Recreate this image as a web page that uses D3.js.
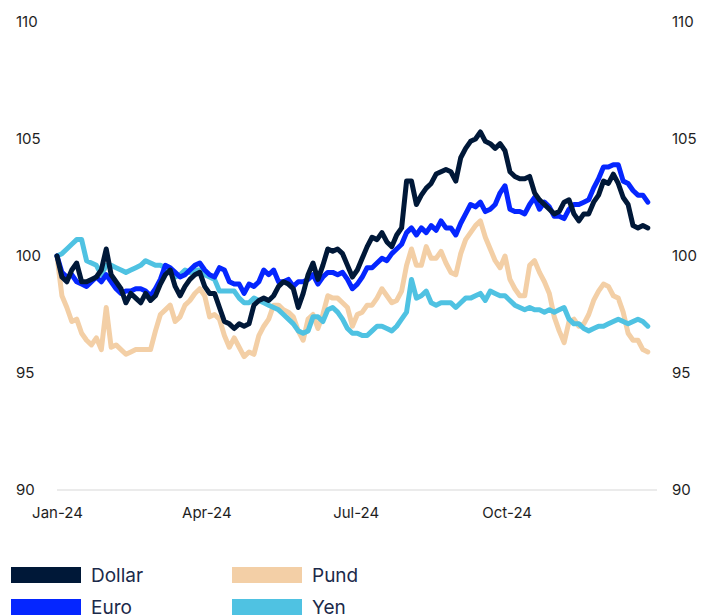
<!DOCTYPE html>
<html>
<head>
<meta charset="utf-8">
<script src="https://cdn.jsdelivr.net/npm/d3@7"></script>
<style>
  html, body { margin: 0; padding: 0; background: #fff; }
  svg { display: block; font-family: Inter, "Noto Sans", sans-serif; }
</style>
</head>
<body>
<svg id="chart" width="702" height="615"></svg>
<script>
// Dates (every third day of 2024, MM-DD)
const dates = [
  "01-01","01-04","01-07","01-10","01-13","01-16","01-19","01-22","01-25","01-28","01-31",
  "02-03","02-06","02-09","02-12","02-15","02-18","02-21","02-24","02-27",
  "03-01","03-04","03-07","03-10","03-13","03-16","03-19","03-22","03-25","03-28","03-31",
  "04-03","04-06","04-09","04-12","04-15","04-18","04-21","04-24","04-27","04-30",
  "05-03","05-06","05-09","05-12","05-15","05-18","05-21","05-24","05-27","05-30",
  "06-02","06-05","06-08","06-11","06-14","06-17","06-20","06-23","06-26","06-29",
  "07-02","07-05","07-08","07-11","07-14","07-17","07-20","07-23","07-26","07-29",
  "08-01","08-04","08-07","08-10","08-13","08-16","08-19","08-22","08-25","08-28","08-31",
  "09-03","09-06","09-09","09-12","09-15","09-18","09-21","09-24","09-27","09-30",
  "10-03","10-06","10-09","10-12","10-15","10-18","10-21","10-24","10-27","10-30",
  "11-02","11-05","11-08","11-11","11-14","11-17","11-20","11-23","11-26","11-29",
  "12-02","12-05","12-08","12-11","12-14","12-17","12-20","12-23","12-26"
];

const dollar = [
  100.0,99.1,98.9,99.4,99.7,98.9,98.9,99.0,99.1,99.4,100.3,
  99.2,98.9,98.6,98.0,98.4,98.2,98.0,98.4,98.1,
  98.3,98.8,99.2,99.4,98.7,98.3,98.7,99.0,99.2,99.3,98.7,
  98.4,98.4,97.8,97.2,97.1,96.9,97.1,97.0,97.1,97.9,
  98.1,98.2,98.1,98.3,98.7,98.9,98.8,98.6,97.8,98.4,
  99.2,99.7,99.0,99.6,100.3,100.2,100.3,100.1,99.6,99.1,
  99.4,99.9,100.4,100.8,100.7,101.0,100.6,100.4,100.9,101.2,
  103.2,103.2,102.2,102.6,102.9,103.1,103.5,103.6,103.7,103.6,103.2,
  104.2,104.6,104.9,105.0,105.3,104.9,104.8,104.6,104.8,104.5,
  103.6,103.4,103.3,103.3,103.4,102.7,102.4,102.2,102.0,101.8,
  101.9,102.3,102.4,101.8,101.5,101.8,101.8,102.3,102.6,103.2,
  103.1,103.5,103.1,102.5,102.2,101.3,101.2,101.3,101.2
];

const euro = [
  100.0,99.3,99.1,99.2,98.9,98.8,98.7,98.9,99.1,98.9,99.2,
  98.9,98.6,98.4,98.5,98.5,98.6,98.6,98.5,98.3,
  98.6,99.0,99.6,99.5,99.3,99.1,99.2,99.4,99.6,99.7,99.4,
  99.2,99.1,99.5,99.4,98.9,98.8,98.8,98.4,98.8,98.7,
  98.9,99.4,99.2,99.4,98.9,98.9,99.0,98.7,98.9,98.9,
  99.0,99.2,98.8,99.1,99.3,99.3,99.2,99.3,99.0,98.6,
  98.8,99.1,99.5,99.5,99.7,99.9,99.8,100.1,100.3,100.5,
  101.0,101.2,100.9,101.2,101.0,101.3,101.1,101.5,101.2,101.2,100.9,
  101.4,101.8,102.2,102.1,102.3,101.9,102.0,102.2,102.7,103.0,
  102.0,101.9,101.9,101.8,102.2,102.5,102.0,102.3,102.1,101.7,
  101.7,101.6,102.0,102.2,102.2,102.3,102.4,102.9,103.3,103.8,
  103.8,103.9,103.9,103.2,103.1,102.8,102.6,102.6,102.3
];

const pund = [
  100.0,98.3,97.8,97.2,97.3,96.7,96.4,96.2,96.5,96.0,97.8,
  96.1,96.2,96.0,95.8,95.9,96.0,96.0,96.0,96.0,
  96.8,97.5,97.7,97.9,97.2,97.4,97.9,98.1,98.4,98.6,98.3,
  97.4,97.5,97.3,96.6,96.1,96.5,96.1,95.7,95.9,95.8,
  96.6,97.0,97.3,97.9,97.9,97.7,97.6,97.4,96.8,96.4,
  97.3,97.5,96.9,97.5,98.3,98.2,98.2,98.0,97.8,97.0,
  97.5,97.6,97.9,97.9,98.2,98.6,98.3,98.0,98.1,98.5,
  99.6,100.3,99.6,99.6,100.4,99.9,99.9,100.2,99.7,99.3,99.2,
  100.1,100.7,101.0,101.3,101.5,100.8,100.3,99.8,99.5,100.0,
  99.0,98.6,98.3,98.3,99.6,99.8,99.3,98.9,98.4,97.4,
  96.8,96.3,97.2,97.3,97.0,97.1,97.5,98.1,98.5,98.8,
  98.7,98.3,98.2,97.6,96.7,96.4,96.4,96.0,95.9
];

const yen = [
  100.0,100.1,100.3,100.5,100.7,100.7,99.8,99.7,99.6,99.2,99.6,
  99.6,99.5,99.4,99.3,99.4,99.5,99.6,99.8,99.7,
  99.6,99.6,99.5,99.3,99.1,99.2,99.4,99.3,99.4,99.4,99.2,
  99.1,99.0,98.5,98.5,98.5,98.5,98.2,98.0,98.0,98.2,
  98.1,98.0,97.9,97.8,97.7,97.5,97.3,97.1,96.8,96.7,
  96.8,97.4,97.4,97.2,97.7,97.8,97.6,97.3,96.9,96.7,
  96.7,96.6,96.6,96.8,97.0,97.0,96.9,96.8,97.0,97.3,
  97.6,99.0,98.2,98.3,98.5,98.0,97.9,98.0,98.0,98.0,97.8,
  98.0,98.2,98.2,98.3,98.4,98.1,98.5,98.4,98.3,98.3,
  98.1,97.9,97.8,97.7,97.8,97.7,97.7,97.6,97.7,97.6,
  97.7,97.8,97.3,97.1,97.1,96.9,96.8,96.9,97.0,97.0,
  97.1,97.2,97.3,97.2,97.1,97.2,97.3,97.2,97.0
];

const seriesNames = ["Dollar", "Euro", "Pund", "Yen"];
const seriesColors = ["#001838", "#0526ff", "#f3cfa6", "#4fc2e2"];
const yTicks = [90, 95, 100, 105, 110];
const xTickDates = ["2024-01-01", "2024-04-01", "2024-07-01", "2024-10-01"];

const parse = d3.timeParse("%Y-%m-%d");
const dateObjs = dates.map(d => parse("2024-" + d));
const allSeries = [dollar, euro, pund, yen];

const svg = d3.select("#chart");
const x = d3.scaleTime()
  .domain([parse("2024-01-01"), parse("2024-12-31")])
  .range([57, 656]);
const y = d3.scaleLinear().domain([90, 110]).range([490, 22]);

// baseline gridline
svg.append("line")
  .attr("x1", 57).attr("x2", 657)
  .attr("y1", y(90)).attr("y2", y(90))
  .attr("stroke", "#e4e4e4").attr("stroke-width", 1.5);

// left axis
const gl = svg.append("g").attr("transform", "translate(16,0)")
  .call(d3.axisLeft(y).tickValues(yTicks).tickSize(0).tickPadding(0));
gl.select(".domain").remove();
gl.selectAll("text").attr("x", 0).attr("text-anchor", "start")
  .attr("font-size", 15).attr("fill", "#1e1e1e").attr("font-family", "Inter, sans-serif");

// right axis
const gr = svg.append("g").attr("transform", "translate(672,0)")
  .call(d3.axisRight(y).tickValues(yTicks).tickSize(0).tickPadding(0));
gr.select(".domain").remove();
gr.selectAll("text").attr("x", 0).attr("text-anchor", "start")
  .attr("font-size", 15).attr("fill", "#1e1e1e").attr("font-family", "Inter, sans-serif");

// bottom axis
const gb = svg.append("g").attr("transform", "translate(0,504)")
  .call(d3.axisBottom(x).tickValues(xTickDates.map(parse)).tickFormat(d3.timeFormat("%b-%y")).tickSize(0).tickPadding(3));
gb.select(".domain").remove();
gb.selectAll("text").attr("font-size", 15).attr("fill", "#1e1e1e").attr("font-family", "Inter, sans-serif");

const line = d3.line()
  .x((d, i) => x(dateObjs[i]))
  .y(d => y(d));

const drawOrder = [2, 3, 1, 0];
drawOrder.forEach(k => {
  svg.append("path")
    .datum(allSeries[k])
    .attr("fill", "none")
    .attr("stroke", seriesColors[k])
    .attr("stroke-width", 5)
    .attr("stroke-linejoin", "round")
    .attr("stroke-linecap", "round")
    .attr("d", line);
});

// legend
const legendPos = [[11, 567], [11, 599], [232, 567], [232, 599]];
seriesNames.forEach((name, k) => {
  const [lx, ly] = legendPos[k];
  svg.append("rect").attr("x", lx).attr("y", ly).attr("width", 70).attr("height", 16)
    .attr("fill", seriesColors[k]);
  svg.append("text").attr("x", lx + 80).attr("y", ly + 8)
    .attr("dominant-baseline", "central")
    .attr("font-size", 19).attr("fill", "#1b2a4a")
    .attr("font-family", "Inter, sans-serif")
    .text(name);
});
</script>
</body>
</html>
